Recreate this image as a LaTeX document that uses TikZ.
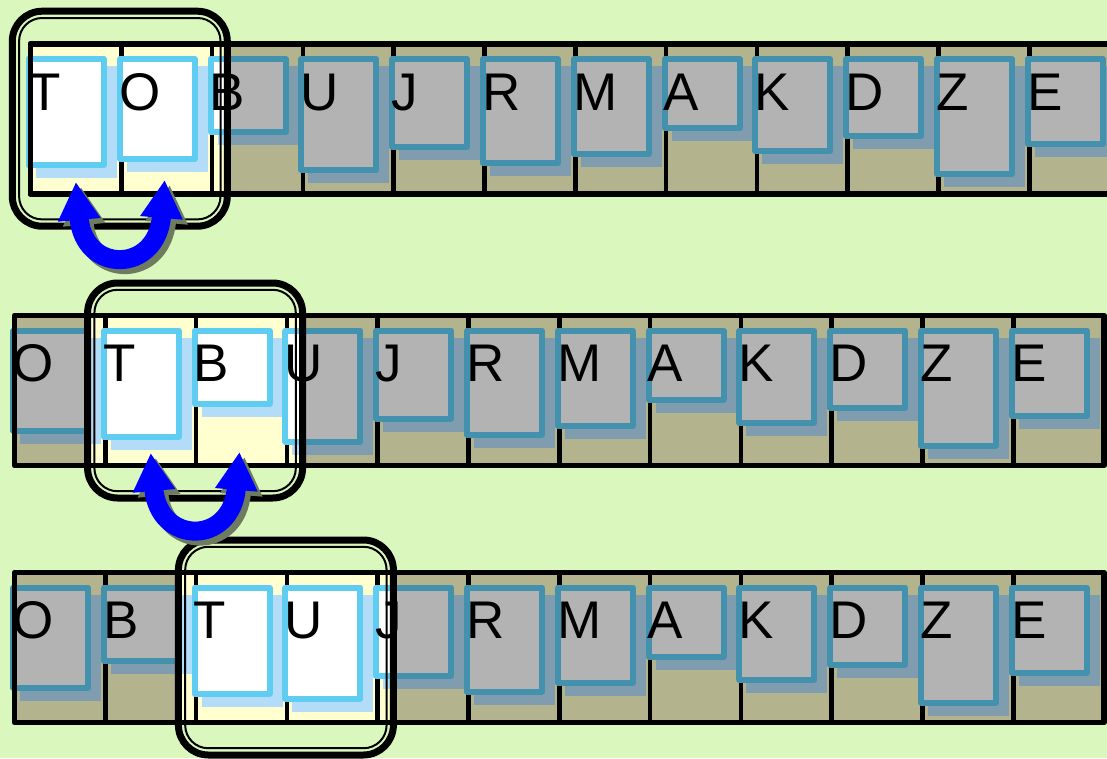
\documentclass[tikz,border=0pt]{standalone}
\usepackage{fontspec}
\setmainfont{Liberation Sans}
\usetikzlibrary{arrows.meta}

\definecolor{bggreen}{HTML}{DAF7BE}
\definecolor{khaki}{HTML}{B3B38E}
\definecolor{paleyellow}{HTML}{FFFFD0}
\definecolor{cardgrey}{HTML}{B3B3B3}
\definecolor{edgeteal}{HTML}{4491AE}
\definecolor{edgesky}{HTML}{5FCDF2}
\definecolor{shadeteal}{HTML}{7F9DAE}
\definecolor{shadesky}{HTML}{B2DCF8}
\definecolor{arrowblue}{HTML}{0000FF}
\definecolor{arrowshade}{HTML}{6D7B5F}

\colorlet{cellfill}{khaki}
\colorlet{cardface}{cardgrey}
\colorlet{cardedge}{edgeteal}
\colorlet{cardshade}{shadeteal}

% card heights, by letter
\foreach \lt/\hh in {A/75,B/79,D/83,E/91,J/94,K/98,M/101,O/106,R/110,T/112,U/117,Z/121}
  {\expandafter\xdef\csname cardh\lt\endcsname{\hh}}

\newcommand\cellw{90.8}

% #1 name, #2 left, #3 top, #4 letters
\newcommand\cardrow[4]{%
  \fill[cellfill] (#2,#3) rectangle ++(12*\cellw,150);
  \foreach \ci in {1,...,11}
    \draw[line width=4.5pt] (#2+\ci*\cellw,#3) -- ++(0,150);
  \foreach \lt [count=\ci from 0] in {#4} {
    \pgfmathsetmacro\cx{#2+\ci*\cellw-4.5}
    \pgfmathsetmacro\hh{\csname cardh\lt\endcsname}
    \fill[cardshade] (\cx+10,#3+22) rectangle ++(81,\hh);
    \draw[draw=cardedge,fill=cardface,line width=6pt] (\cx+3,#3+15) rectangle ++(75,\hh-6);
    \node[letter] (#1-\ci) at (\cx+2,#3+66) {\lt};
  }
  \draw[line width=5.5pt] (#2,#3) rectangle ++(12*\cellw,150);
}

% #1, #2 centre of the lens
\newcommand\lensclip[2]{\clip[rounded corners=30pt] (#1-107.5,#2-107.5) rectangle ++(215,215);}
\newcommand\lensframe[2]{%
  \draw[line width=7pt,rounded corners=30pt] (#1-107.5,#2-107.5) rectangle ++(215,215);
  \draw[line width=2pt,rounded corners=23pt] (#1-100.7,#2-100.7) rectangle ++(201.4,201.4);
}

\tikzset{
  letter/.style={font=\fontsize{53}{60}\selectfont,inner sep=0pt,anchor=base west},
  highlit/.code={\colorlet{cellfill}{paleyellow}\colorlet{cardface}{white}%
    \colorlet{cardedge}{edgesky}\colorlet{cardshade}{shadesky}},
  swaparrow/.style={draw=arrowblue,line width=19pt,
    {Triangle[width=40pt,length=38pt]}-{Triangle[width=40pt,length=38pt]}},
  swapshade/.style={swaparrow,draw=arrowshade,transform canvas={shift={(5pt,-5pt)}}}
}

\begin{document}
\begin{tikzpicture}[x=1pt,y=-1pt,line join=round]
  \fill[bggreen] (0,0) rectangle (1107,758);
  \clip (0,0) rectangle (1107,758);

  % first pass: T and O
  \cardrow{r1}{30.5}{44}{T,O,B,U,J,R,M,A,K,D,Z,E}
  \begin{scope}[highlit]
    \lensclip{119.8}{118.7}
    \cardrow{h1}{30.5}{44}{T,O,B,U,J,R,M,A,K,D,Z,E}
  \end{scope}
  \lensframe{119.8}{118.7}

  % second pass: T and B
  \cardrow{r2}{14.5}{315.5}{O,T,B,U,J,R,M,A,K,D,Z,E}
  \begin{scope}[highlit]
    \lensclip{195.1}{390.5}
    \cardrow{h2}{14.5}{315.5}{O,T,B,U,J,R,M,A,K,D,Z,E}
  \end{scope}
  \lensframe{195.1}{390.5}

  % third pass: T and U
  \cardrow{r3}{14.5}{572.5}{O,B,T,U,J,R,M,A,K,D,Z,E}
  \begin{scope}[highlit]
    \lensclip{285.9}{647.5}
    \cardrow{h3}{14.5}{572.5}{O,B,T,U,J,R,M,A,K,D,Z,E}
  \end{scope}
  \lensframe{285.9}{647.5}

  % swaps
  \coordinate (s1a) at (75.9,182);
  \coordinate (s1b) at (164.7,180);
  \coordinate (s2a) at (150.7,453);
  \coordinate (s2b) at (239.5,452);
  \draw[swapshade] (s1a) .. controls +(8,92) and +(-8,94) .. (s1b);
  \draw[swaparrow] (s1a) .. controls +(8,92) and +(-8,94) .. (s1b);
  \draw[swapshade] (s2a) .. controls +(8,92) and +(-8,94) .. (s2b);
  \draw[swaparrow] (s2a) .. controls +(8,92) and +(-8,94) .. (s2b);
\end{tikzpicture}
\end{document}
